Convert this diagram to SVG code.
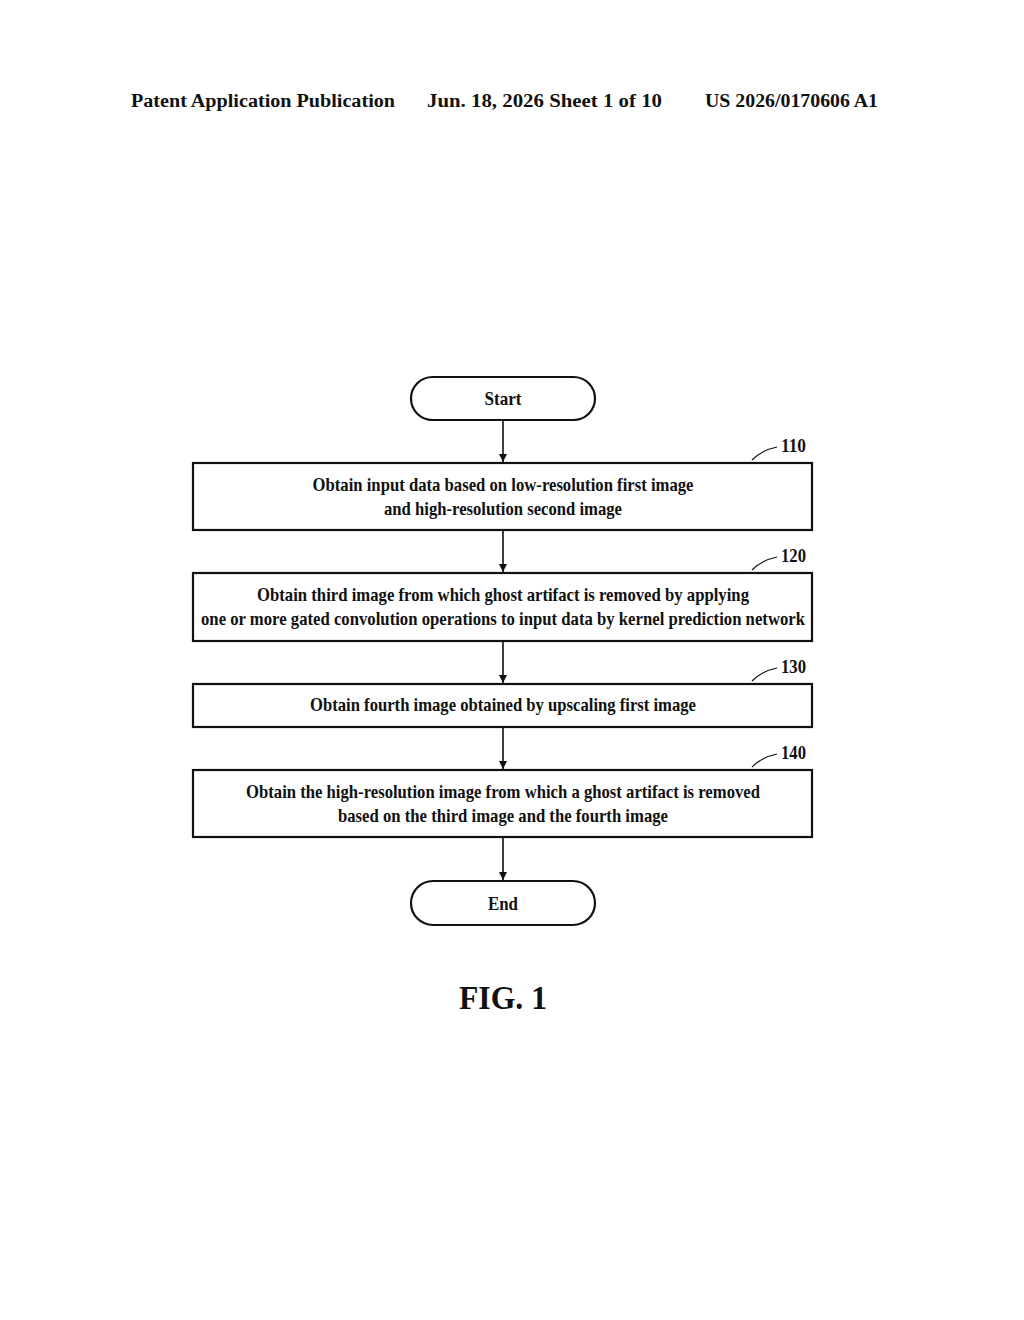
<svg xmlns="http://www.w3.org/2000/svg" width="1024" height="1320" viewBox="0 0 1024 1320">
<defs>
<style>
text{font-family:"Liberation Serif","Times New Roman",serif;font-weight:bold;fill:#111}
.h{font-size:18px}
.t{font-size:19px;text-anchor:middle}
.n{font-size:18px}
.b{fill:#fff;stroke:#111;stroke-width:2.2}
.c{stroke:#111;stroke-width:1.6;fill:none}
.l{stroke:#111;stroke-width:1.2;fill:none}
</style>
<marker id="a" markerWidth="10" markerHeight="10" refX="9" refY="5" orient="auto" markerUnits="userSpaceOnUse"><path d="M1,1 L9,5 L1,9 Z" fill="#111"/></marker>
</defs>
<rect width="1024" height="1320" fill="#fff"/>
<g id="header">
<text class="h" x="131" y="107" textLength="264" lengthAdjust="spacingAndGlyphs">Patent Application Publication</text>
<text class="h" x="427" y="107" textLength="235" lengthAdjust="spacingAndGlyphs">Jun. 18, 2026  Sheet 1 of 10</text>
<text class="h" x="705" y="107" textLength="173" lengthAdjust="spacingAndGlyphs">US 2026/0170606 A1</text>
</g>
<g id="connectors">
<line class="c" x1="503" y1="420" x2="503" y2="462" marker-end="url(#a)"/>
<line class="c" x1="503" y1="530" x2="503" y2="572" marker-end="url(#a)"/>
<line class="c" x1="503" y1="641" x2="503" y2="683" marker-end="url(#a)"/>
<line class="c" x1="503" y1="727" x2="503" y2="769" marker-end="url(#a)"/>
<line class="c" x1="503" y1="837" x2="503" y2="880" marker-end="url(#a)"/>
</g>
<g id="start"><rect class="b" x="411" y="377" width="184" height="43" rx="21.5"/><text class="t" x="503" y="405" textLength="37" lengthAdjust="spacingAndGlyphs">Start</text></g>
<g id="s110"><rect class="b" x="193" y="463" width="619" height="67"/>
<text class="t" x="503" y="491" textLength="381" lengthAdjust="spacingAndGlyphs">Obtain input data based on low-resolution first image</text>
<text class="t" x="503" y="515" textLength="238" lengthAdjust="spacingAndGlyphs">and high-resolution second image</text>
<path class="l" d="M752,460 Q762,450 777,447"/><text class="n" x="781" y="452" textLength="25" lengthAdjust="spacingAndGlyphs">110</text></g>
<g id="s120"><rect class="b" x="193" y="573" width="619" height="68"/>
<text class="t" x="503" y="601" textLength="492" lengthAdjust="spacingAndGlyphs">Obtain third image from which ghost artifact is removed by applying</text>
<text class="t" x="503" y="625" textLength="604" lengthAdjust="spacingAndGlyphs">one or more gated convolution operations to input data by kernel prediction network</text>
<path class="l" d="M752,570 Q762,560 777,557"/><text class="n" x="781" y="562" textLength="25" lengthAdjust="spacingAndGlyphs">120</text></g>
<g id="s130"><rect class="b" x="193" y="684" width="619" height="43"/>
<text class="t" x="503" y="711" textLength="386" lengthAdjust="spacingAndGlyphs">Obtain fourth image obtained by upscaling first image</text>
<path class="l" d="M752,681 Q762,671 777,668"/><text class="n" x="781" y="673" textLength="25" lengthAdjust="spacingAndGlyphs">130</text></g>
<g id="s140"><rect class="b" x="193" y="770" width="619" height="67"/>
<text class="t" x="503" y="798" textLength="514" lengthAdjust="spacingAndGlyphs">Obtain the high-resolution image from which a ghost artifact is removed</text>
<text class="t" x="503" y="822" textLength="330" lengthAdjust="spacingAndGlyphs">based on the third image and the fourth image</text>
<path class="l" d="M752,767 Q762,757 777,754"/><text class="n" x="781" y="759" textLength="25" lengthAdjust="spacingAndGlyphs">140</text></g>
<g id="end"><rect class="b" x="411" y="881" width="184" height="44" rx="22"/><text class="t" x="503" y="910" textLength="30" lengthAdjust="spacingAndGlyphs">End</text></g>
<text x="503" y="1009" style="font-size:34px;text-anchor:middle" textLength="88" lengthAdjust="spacingAndGlyphs">FIG. 1</text>
</svg>
